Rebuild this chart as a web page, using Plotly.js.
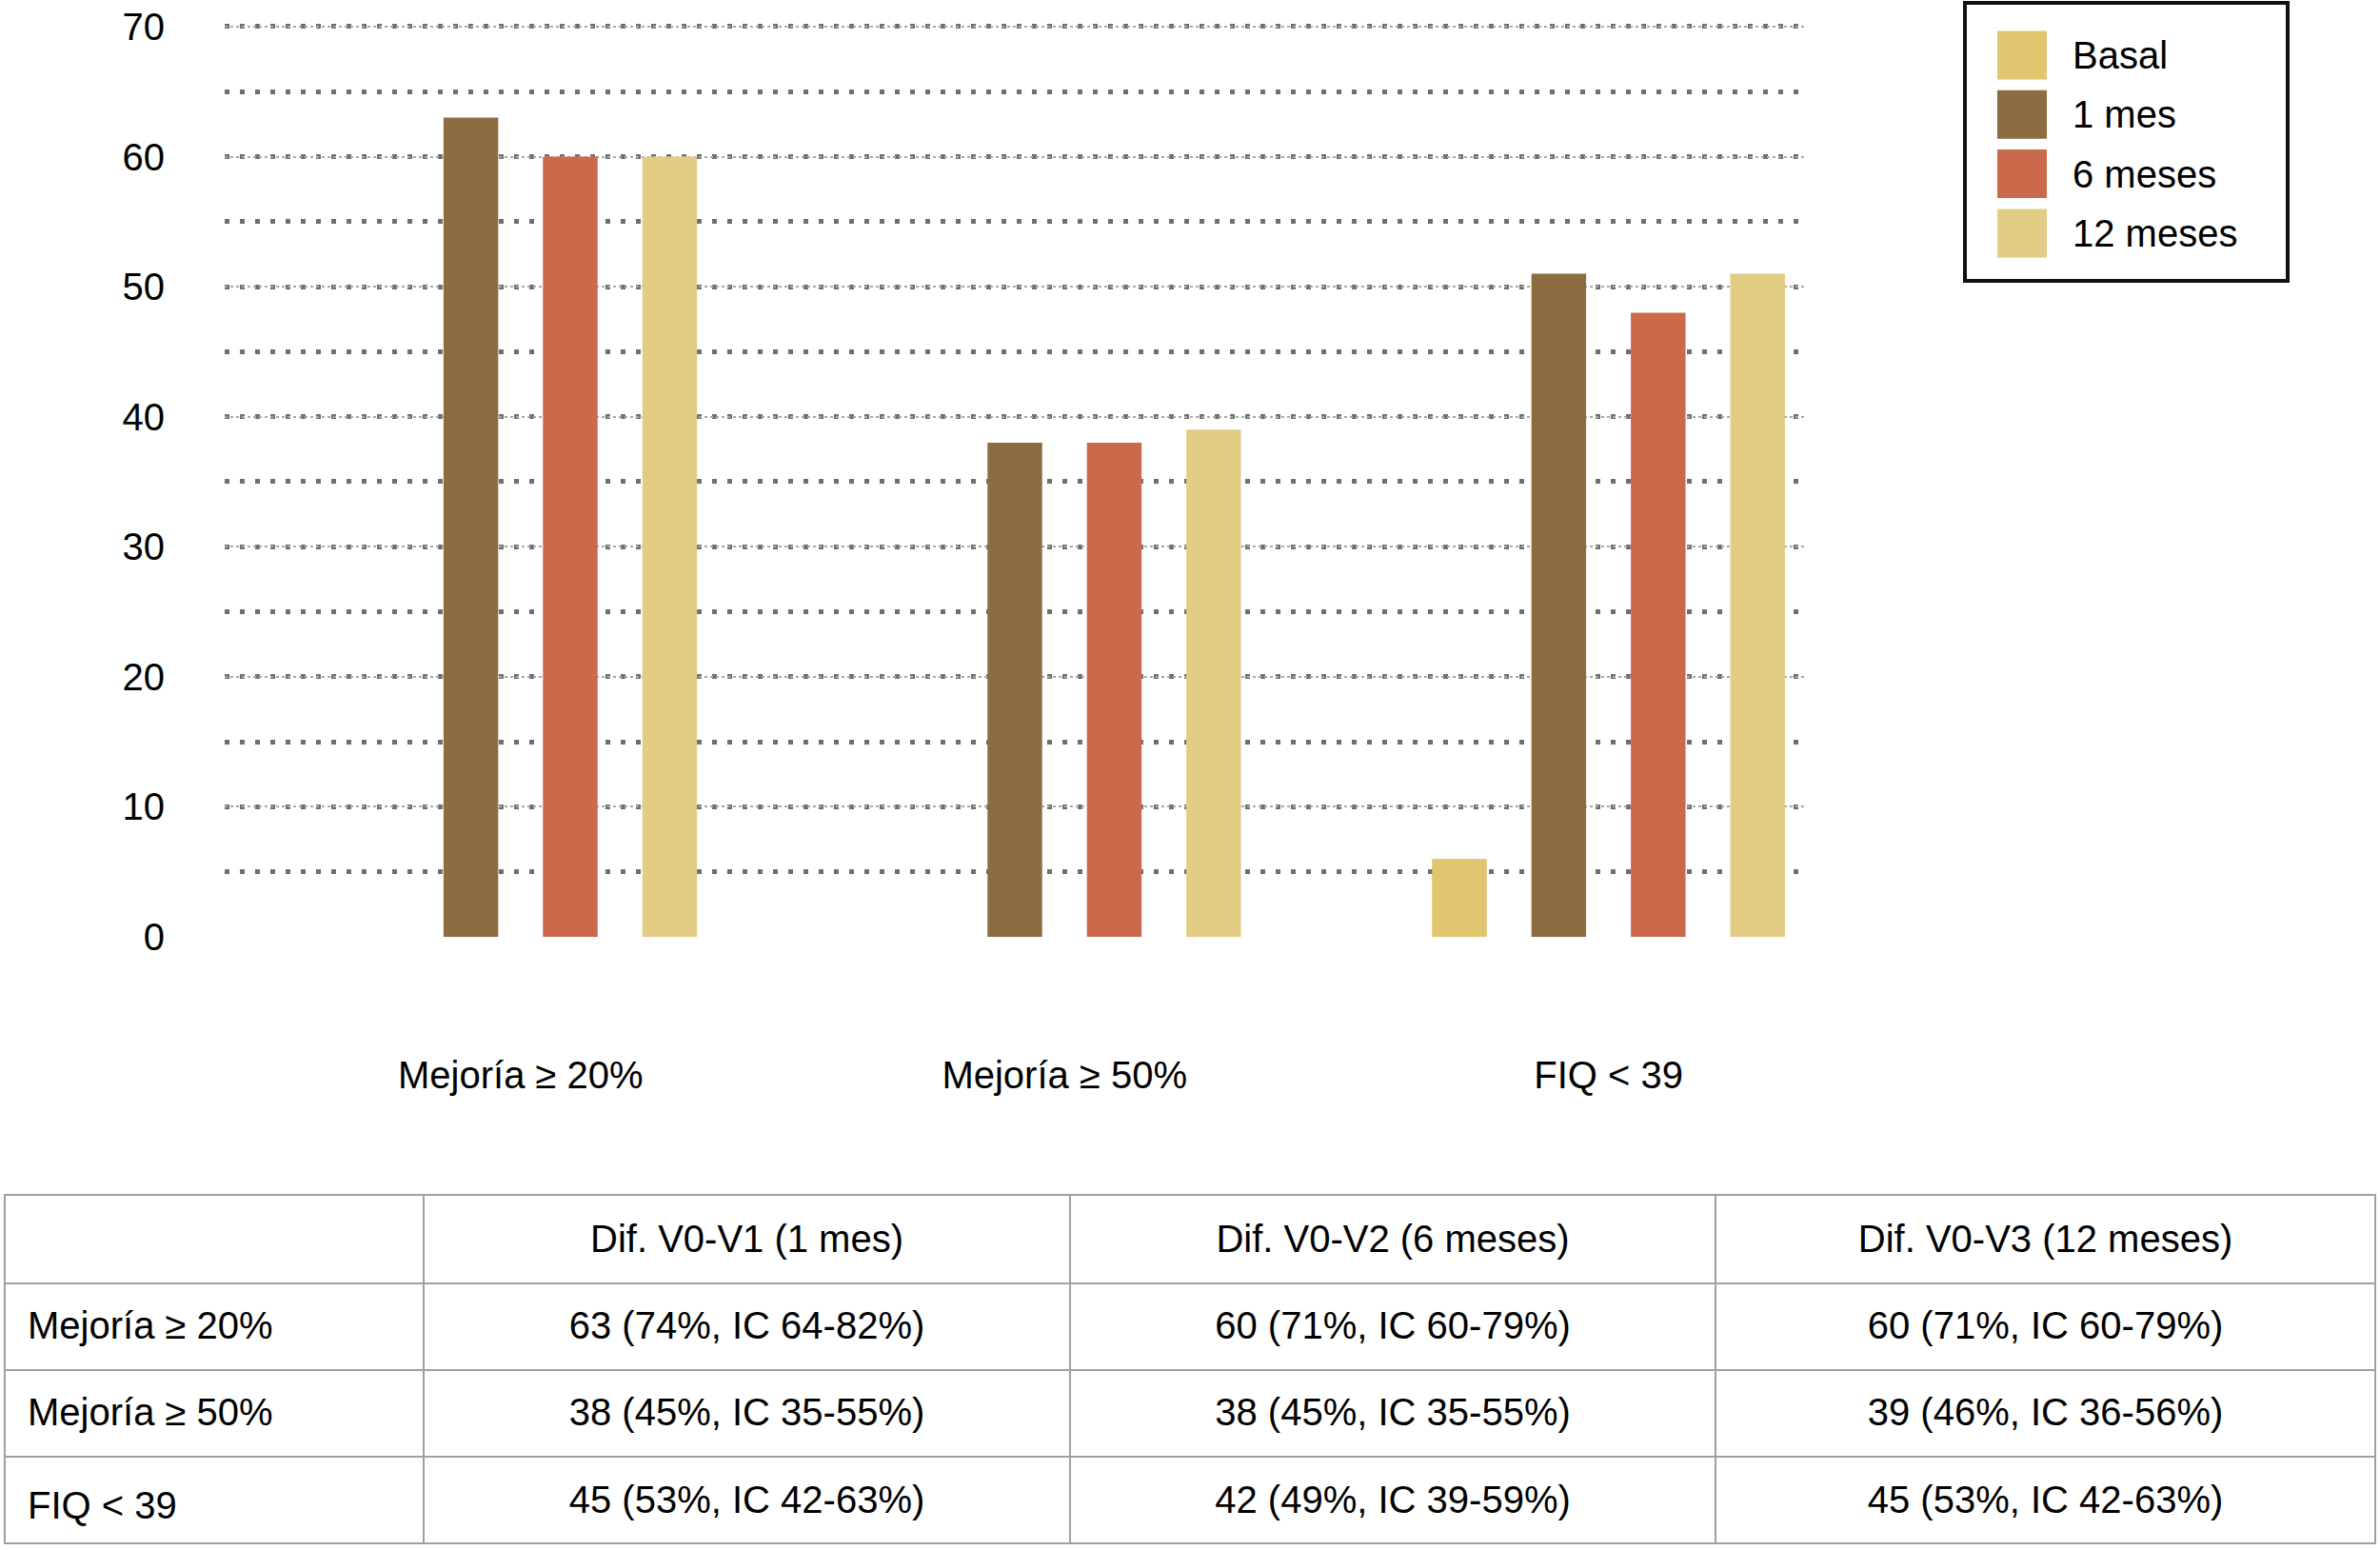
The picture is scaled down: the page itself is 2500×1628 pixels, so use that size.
<!DOCTYPE html>
<html>
<head>
<meta charset="utf-8">
<script src="https://cdn.plot.ly/plotly-3.0.1.min.js"></script>
<style>html,body{margin:0;padding:0;background:#fff;}#chart{width:2500px;height:1628px;}</style>
</head>
<body>
<div id="chart"></div>
<script>
// ---- data ----
const categories = ["Mejoría ≥ 20%", "Mejoría ≥ 50%", "FIQ < 39"];
const seriesNames = ["Basal", "1 mes", "6 meses", "12 meses"];
const basal = [null, null, 6];
const mes1 = [63, 38, 51];
const meses6 = [60, 38, 48];
const meses12 = [60, 39, 51];
const seriesColors = ["#E1C56F", "#8C6C40", "#CB6A4A", "#E3CC84"];
const yTickVals = [0, 10, 20, 30, 40, 50, 60, 70];

const tableHeader = ["", "Dif. V0-V1 (1 mes)", "Dif. V0-V2 (6 meses)", "Dif. V0-V3 (12 meses)"];
const tableRowLabels = ["Mejoría ≥ 20%", "Mejoría ≥ 50%", "FIQ < 39"];
const tableCol1 = ["63 (74%, IC 64-82%)", "38 (45%, IC 35-55%)", "45 (53%, IC 42-63%)"];
const tableCol2 = ["60 (71%, IC 60-79%)", "38 (45%, IC 35-55%)", "42 (49%, IC 39-59%)"];
const tableCol3 = ["60 (71%, IC 60-79%)", "39 (46%, IC 36-56%)", "45 (53%, IC 42-63%)"];

// ---- traces ----
const FONT = "Liberation Sans, Arial, sans-serif";
const seriesValues = [basal, mes1, meses6, meses12];
const traces = seriesValues.map((vals, i) => ({
  type: "bar",
  x: categories,
  y: vals,
  name: seriesNames[i],
  marker: { color: seriesColors[i], line: { width: 0 } },
  showlegend: false
}));

const H = 1628, W = 2500;
const tableCols = [tableRowLabels, tableCol1, tableCol2, tableCol3];
const colWidths = [440, 679, 678, 693];

// table grid (cell borders); text is drawn by the companion table below,
// offset so that it sits vertically centred in each cell
traces.push({
  type: "table",
  domain: { x: [0.002, 0.998], y: [0.003, 1 - 1255 / H] },
  columnwidth: colWidths,
  header: {
    values: tableHeader.map(() => ""),
    height: 93,
    line: { color: "#a0a0a0", width: 2 },
    fill: { color: "#ffffff" },
    font: { family: FONT, size: 40, color: "#000" }
  },
  cells: {
    values: tableCols.map(col => col.map(() => "")),
    height: 91,
    line: { color: "#a0a0a0", width: 2 },
    fill: { color: "#ffffff" },
    font: { family: FONT, size: 40, color: "#000" }
  }
});
traces.push({
  type: "table",
  domain: { x: [0.002, 0.998], y: [0, 1 - 1277 / H] },
  columnwidth: colWidths,
  header: {
    values: tableHeader,
    height: 91,
    align: ["left", "center", "center", "center"],
    prefix: ["\u2009", "", "", ""],
    line: { color: "rgba(0,0,0,0)", width: 0 },
    fill: { color: "rgba(0,0,0,0)" },
    font: { family: FONT, size: 40, color: "#000" }
  },
  cells: {
    values: tableCols,
    height: 91.3,
    align: ["left", "center", "center", "center"],
    prefix: ["\u2009", "", "", ""],
    line: { color: "rgba(0,0,0,0)", width: 0 },
    fill: { color: "rgba(0,0,0,0)" },
    font: { family: FONT, size: 40, color: "#000" }
  }
});

// ---- custom legend (layout decoration) ----
const shapes = [];
const annotations = [];
shapes.push({
  type: "rect", xref: "paper", yref: "paper",
  x0: 2064 / W, x1: 2403 / W, y0: 1 - 295 / H, y1: 1 - 3 / H,
  line: { color: "#111", width: 4 }, fillcolor: "rgba(0,0,0,0)"
});
seriesNames.forEach((name, i) => {
  const cy = 58 + 62.3 * i;
  shapes.push({
    type: "rect", xref: "paper", yref: "paper",
    x0: 2098 / W, x1: 2150 / W, y0: 1 - (cy + 25.5) / H, y1: 1 - (cy - 25.5) / H,
    line: { width: 0 }, fillcolor: seriesColors[i]
  });
  annotations.push({
    xref: "paper", yref: "paper", x: 2175 / W, y: 1 - cy / H,
    xanchor: "left", yanchor: "middle", showarrow: false,
    text: name, font: { size: 40, color: "#000" }
  });
});

const layout = {
  width: W, height: H,
  margin: { l: 0, r: 0, t: 0, b: 0 },
  paper_bgcolor: "#ffffff", plot_bgcolor: "#ffffff",
  font: { family: FONT, size: 40, color: "#000" },
  barmode: "group",
  bargap: 0.269,
  bargroupgap: 0.45,
  showlegend: false,
  xaxis: {
    type: "category",
    domain: [0.0944, 0.7588],
    range: [-0.544, 2.363],
    showgrid: false, showline: false, zeroline: false,
    ticks: "", ticklabelstandoff: 118,
    tickfont: { size: 40, color: "#000" }
  },
  yaxis: {
    domain: [0.3956, 0.98532],
    range: [0, 70.3],
    tickmode: "array", tickvals: yTickVals,
    showgrid: true, gridcolor: "#a8a8a8", gridwidth: 2, griddash: "3px,3px",
    minor: { dtick: 5, tick0: 0, showgrid: true, gridcolor: "#6f6f6f", gridwidth: 5, griddash: "5px,11px" },
    zeroline: true, zerolinecolor: "#ffffff", zerolinewidth: 5,
    showline: false, ticks: "", ticklabelstandoff: 62,
    tickfont: { size: 40, color: "#000" }
  },
  shapes: shapes,
  annotations: annotations
};

Plotly.newPlot("chart", traces, layout, { displayModeBar: false, staticPlot: true });
</script>
</body>
</html>
